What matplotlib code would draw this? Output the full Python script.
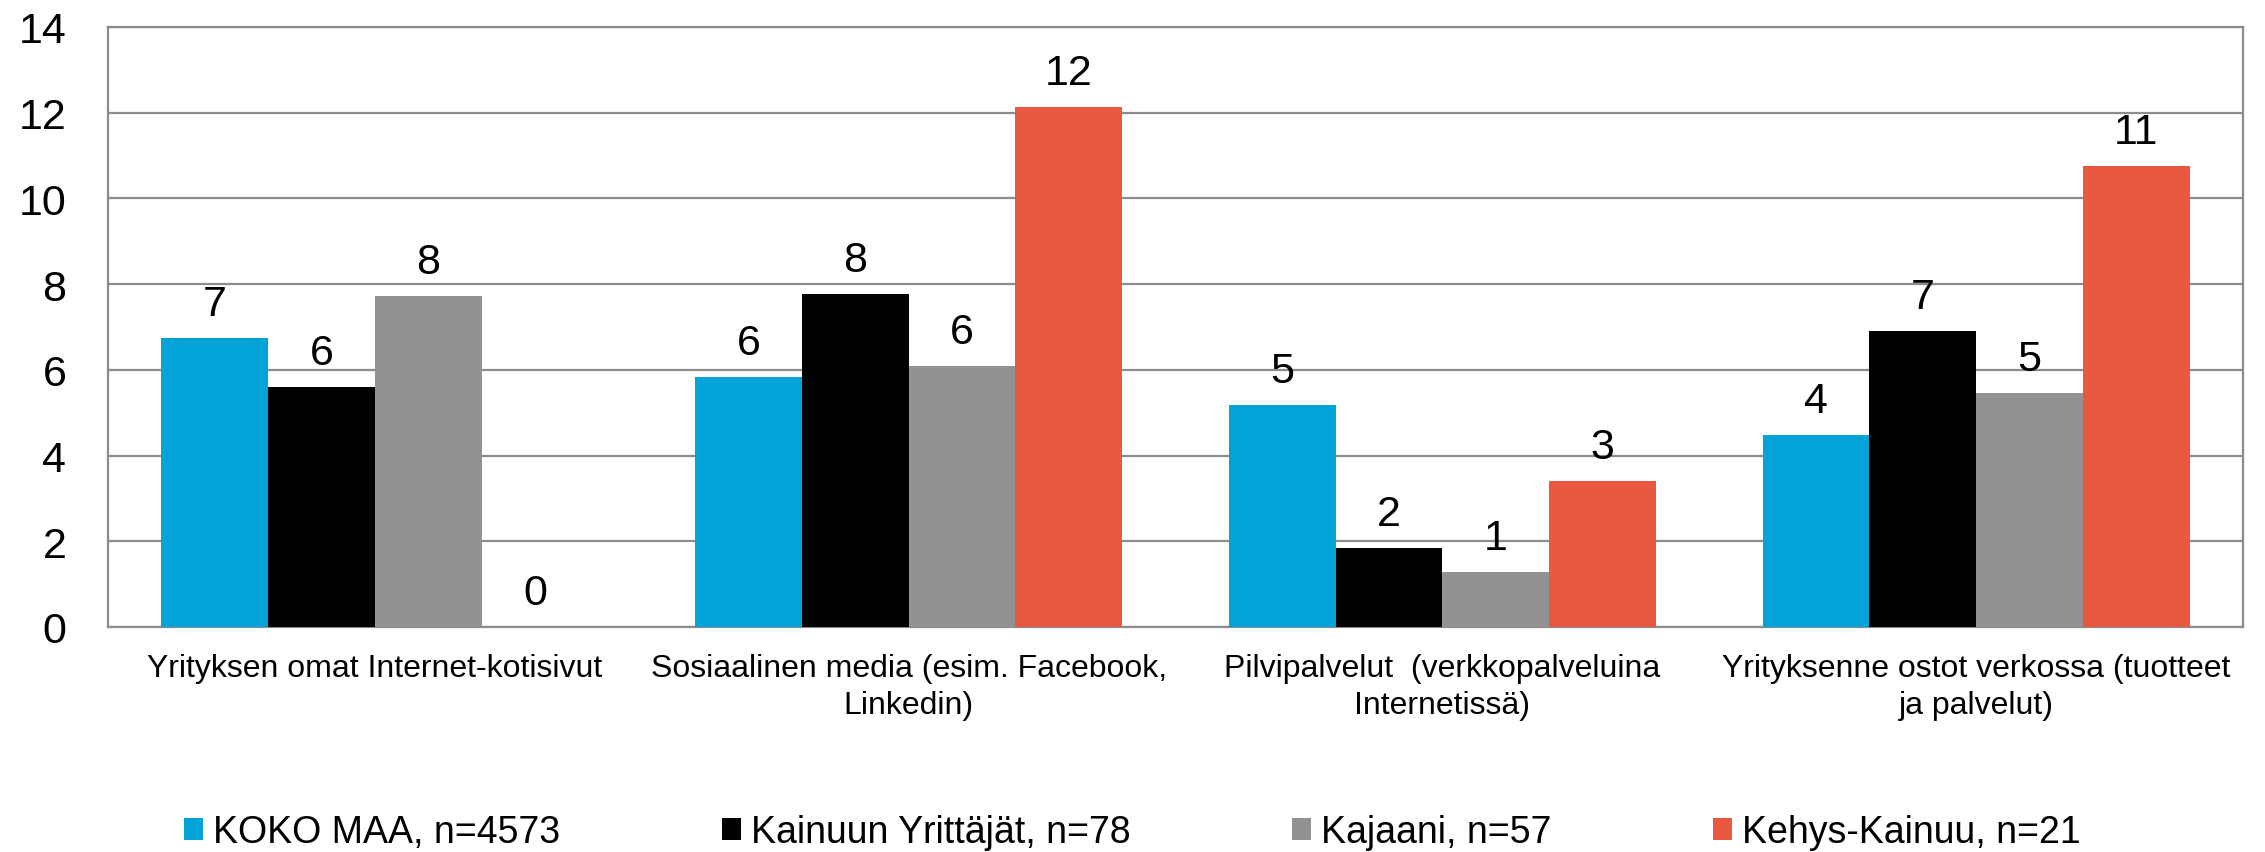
import numpy as np
import matplotlib
matplotlib.use("Agg")
import matplotlib.pyplot as plt

plt.rcParams['font.family'] = ['Liberation Sans', 'DejaVu Sans']

# data
categories = ["Yrityksen omat Internet-kotisivut",
              "Sosiaalinen media (esim. Facebook,\nLinkedin)",
              "Pilvipalvelut  (verkkopalveluina\nInternetissä)",
              "Yrityksenne ostot verkossa (tuotteet\nja palvelut)"]
series_names = ["KOKO MAA, n=4573", "Kainuun Yrittäjät, n=78",
                "Kajaani, n=57", "Kehys-Kainuu, n=21"]
koko_maa = [6.75, 5.83, 5.19, 4.49]
kainuun_yrittajat = [5.60, 7.76, 1.85, 6.91]
kajaani = [7.72, 6.10, 1.28, 5.46]
kehys_kainuu = [0.0, 12.14, 3.41, 10.76]
colors = ["#02A3D9", "#000000", "#929292", "#E95841"]

series = [koko_maa, kainuun_yrittajat, kajaani, kehys_kainuu]

fig = plt.figure(figsize=(22.65, 8.53), dpi=100)
ax = fig.add_axes([0.0477, 0.2638, 0.9426, 0.7035])

x = np.arange(len(categories))
width = 0.2
for i, (vals, name, col) in enumerate(zip(series, series_names, colors)):
    bars = ax.bar(x + (i - 1.5) * width, vals, width, color=col, label=name, zorder=3)
    for b, v in zip(bars, vals):
        ax.annotate(f"{v:.0f}", (b.get_x() + b.get_width() / 2, v),
                    xytext=(0, 10), textcoords="offset points",
                    ha="center", va="bottom", fontsize=31)

ax.set_xlim(-0.5, 3.5)
ax.set_ylim(0, 14)
ax.set_yticks(range(0, 15, 2))
ax.yaxis.grid(True, color="#8c8c8c", linewidth=1.6, zorder=0)
ax.set_axisbelow(True)
for s in ax.spines.values():
    s.set_color("#8c8c8c")
    s.set_linewidth(1.6)
ax.tick_params(axis="y", length=0, labelsize=31, pad=30)
ax.set_xticks(x)
ax.set_xticklabels(categories, fontsize=23, linespacing=1.3)
ax.tick_params(axis="x", length=0, pad=19)

fig.legend(loc="center", bbox_to_anchor=(0.5, 0.023), ncol=4, frameon=False,
           fontsize=27, handlelength=0.5, handleheight=0.5, handletextpad=0.28,
           columnspacing=4.3)

plt.savefig("out.png", dpi=100)
plt.close()
